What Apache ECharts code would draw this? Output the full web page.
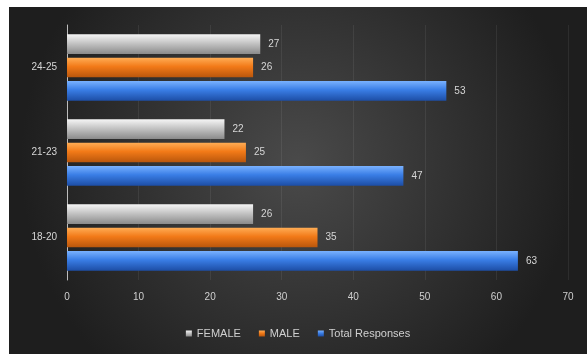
<!DOCTYPE html>
<html>
<head>
<meta charset="utf-8">
<script src="https://cdn.jsdelivr.net/npm/echarts@6/dist/echarts.min.js"></script>
<style>
  html, body { margin: 0; padding: 0; background: #ffffff; width: 587px; height: 354px; overflow: hidden; }
  #chart { position: absolute; left: 9px; top: 7px; width: 578px; height: 347px; }
</style>
</head>
<body>
<div id="chart"></div>
<script>
// Age groups, bottom to top on the category axis
const categories = ['18-20', '21-23', '24-25'];
const femaleValues = [26, 22, 27];
const maleValues = [35, 25, 26];
const totalValues = [63, 47, 53];
const xTicks = { min: 0, max: 70, interval: 10 };

function vGrad(top, mid, bottom) {
  return new echarts.graphic.LinearGradient(0, 0, 0, 1, [
    { offset: 0, color: top },
    { offset: 0.45, color: mid },
    { offset: 1, color: bottom }
  ]);
}

const labelStyle = {
  show: true,
  position: 'right',
  distance: 8,
  color: '#d6d6d6',
  fontSize: 10,
  fontFamily: 'Liberation Sans'
};

const chart = echarts.init(document.getElementById('chart'));
chart.setOption({
  backgroundColor: new echarts.graphic.RadialGradient(0.5, 0.45, 0.8, [
    { offset: 0, color: '#4a4a4a' },
    { offset: 1, color: '#1e1e1e' }
  ]),
  textStyle: { fontFamily: 'Liberation Sans' },
  grid: { left: 58, right: 19, top: 18, bottom: 74 },
  legend: {
    data: ['FEMALE', 'MALE', 'Total Responses'],
    bottom: 10,
    left: 'center',
    itemWidth: 6,
    itemHeight: 6,
    itemGap: 18,
    icon: 'rect',
    textStyle: { color: '#d0d0d0', fontSize: 11 }
  },
  xAxis: {
    type: 'value',
    min: xTicks.min,
    max: xTicks.max,
    interval: xTicks.interval,
    axisLine: { show: false },
    axisTick: { show: false },
    axisLabel: { color: '#cfcfcf', fontSize: 10, margin: 12 },
    splitLine: { show: true, lineStyle: { color: 'rgba(255,255,255,0.07)' } }
  },
  yAxis: {
    type: 'category',
    data: categories,
    axisLine: { show: true, lineStyle: { color: '#bdbdbd', width: 1 } },
    axisTick: { show: false },
    axisLabel: { color: '#d6d6d6', fontSize: 10, margin: 10 }
  },
  series: [
    {
      name: 'FEMALE',
      type: 'bar',
      data: femaleValues,
      barCategoryGap: '22%',
      barGap: '18%',
      itemStyle: { color: vGrad('#f5f5f5', '#c4c4c4', '#8a8a8a') },
      label: labelStyle
    },
    {
      name: 'MALE',
      type: 'bar',
      data: maleValues,
      itemStyle: { color: vGrad('#ffad55', '#f27a18', '#b9560c') },
      label: labelStyle
    },
    {
      name: 'Total Responses',
      type: 'bar',
      data: totalValues,
      itemStyle: { color: vGrad('#7ab2ff', '#3a7ee6', '#1d4ea6') },
      label: labelStyle
    }
  ]
});
</script>
</body>
</html>
